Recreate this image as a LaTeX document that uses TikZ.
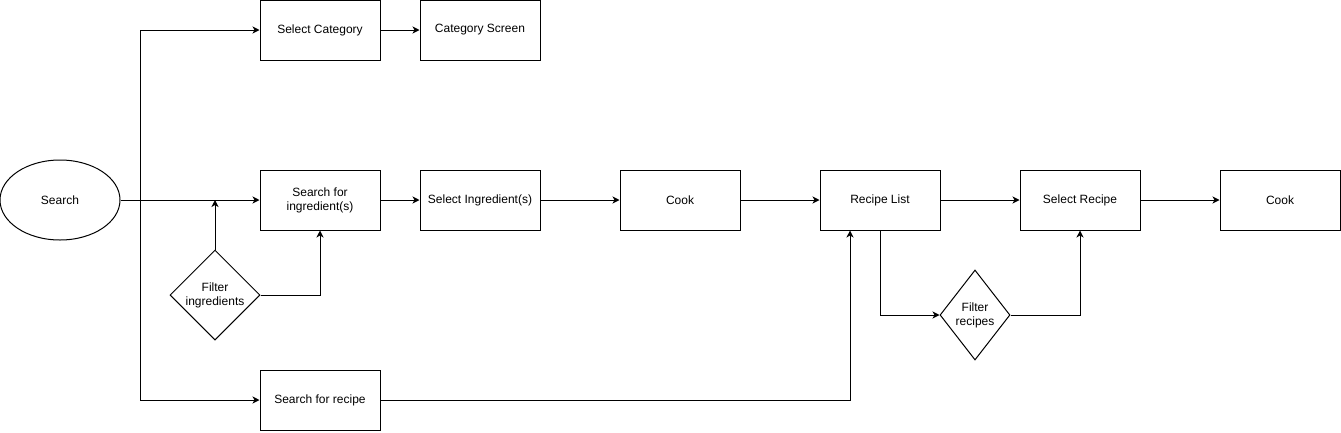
\documentclass[tikz,border=0pt]{standalone}
\usepackage{fontspec}
\setmainfont{Liberation Sans}
\usetikzlibrary{arrows.meta,shapes.geometric}
\tikzset{
  box/.style={draw, minimum width=120pt, minimum height=60pt, align=center, inner sep=0pt},
  choice/.style={draw, diamond, minimum width=90pt, minimum height=90pt, align=center, inner sep=0pt},
}

\begin{document}
\begin{tikzpicture}[x=1pt, y=-1pt, line width=1pt, font=\fontsize{12}{14}\selectfont,
    >={Stealth[length=7pt, width=7pt, inset=2pt]}]
    \useasboundingbox (0,0) rectangle (1341,432);
    \node[draw, ellipse, minimum width=120pt, minimum height=80pt] (search) at (60,200) {Search};
    \node[box] (category) at (320,30) {Select Category};
    \node[box] (catscreen) at (480,30) {Category Screen};
    \node[box] (ingredients) at (320,200) {Search for\\ingredient(s)};
    \node[box] (selingr) at (480,200) {Select Ingredient(s)};
    \node[box] (cook) at (680,200) {Cook};
    \node[box] (recipelist) at (880,200) {Recipe List};
    \node[box] (selrecipe) at (1080,200) {Select Recipe};
    \node[box] (cookrecipe) at (1280,200) {Cook};
    \node[box] (searchrecipe) at (320,400) {Search for recipe};
    \node[choice] (filteringr) at (215,295) {Filter\\ingredients};
    \node[choice, minimum width=70pt] (filterrec) at (975,315) {Filter\\recipes};
    \coordinate (fork) at (140,200);
    \draw[->] (search) -- (ingredients);
    \draw[->] (fork) |- (category);
    \draw[->] (fork) |- (searchrecipe);
    \draw[->] (filteringr.north) -- (filteringr.north |- search.east);
    \draw[->] (filteringr.east) -| (ingredients.south);
    \draw[->] (category) -- (catscreen);
    \draw[->] (ingredients) -- (selingr);
    \draw[->] (selingr) -- (cook);
    \draw[->] (cook) -- (recipelist);
    \draw[->] (recipelist) -- (selrecipe);
    \draw[->] (selrecipe) -- (cookrecipe);
    \draw[->] (searchrecipe.east) -| ([xshift=-30pt]recipelist.south);
    \draw[->] (recipelist.south) |- (filterrec.west);
    \draw[->] (filterrec.east) -| (selrecipe.south);
  \end{tikzpicture}
\end{document}
